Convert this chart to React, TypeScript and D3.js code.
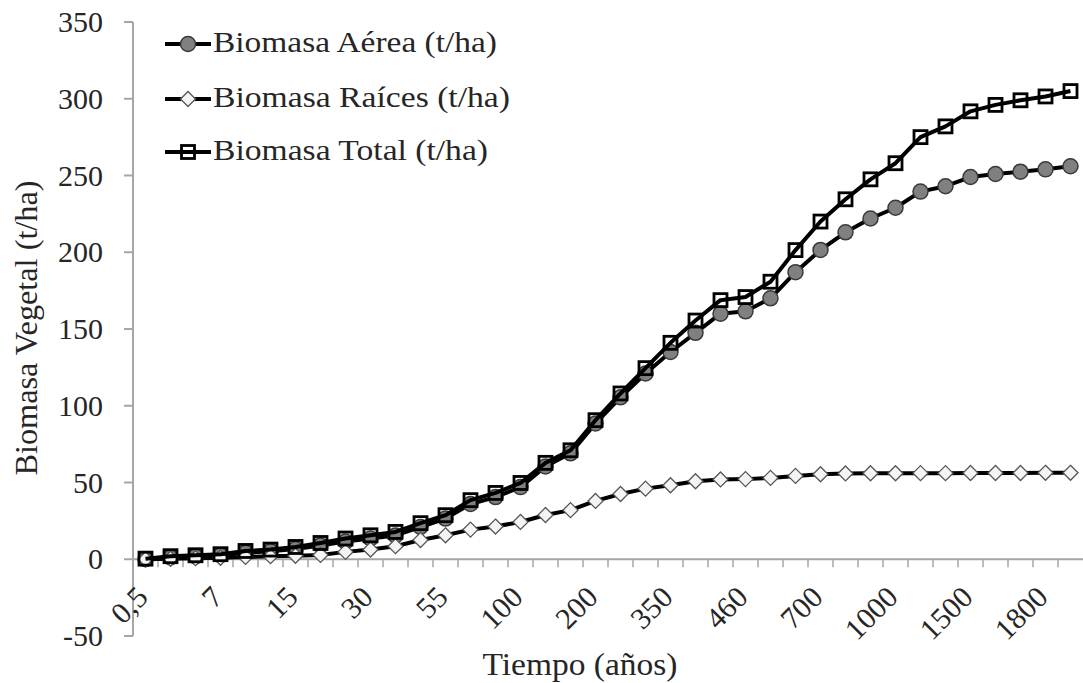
import React from "react";
import * as d3 from "d3";

const timeLabels = ["0,5","1","3","7","9","12","15","20","25","30","40","45","55","70","85","100","130","170","200","250","300","350","400","430","460","550","600","700","800","900","1000","1200","1350","1500","1600","1700","1800","2000"];
const aerea = [0, 1.2, 1.8, 2.6, 4.3, 5.2, 6.6, 9, 11.5, 13.5, 15.5, 21, 26.5, 36, 40.5, 47, 60.5, 69, 88.5, 105.5, 121, 135, 147.5, 160, 161.5, 170, 187, 201.5, 213, 222, 229, 239.5, 243, 249, 251, 252.5, 254, 256];
const raices = [0, 0.3, 0.7, 1, 1.5, 2, 2.3, 2.8, 4.8, 6.3, 8.5, 12.5, 15.6, 19.3, 21.3, 24.3, 28.8, 32, 38, 42.5, 46, 48.2, 50.8, 52, 52.2, 53, 54.3, 55.4, 55.9, 56, 56, 56.1, 56.1, 56.2, 56.2, 56.2, 56.3, 56.3];
const total = [0.4, 2, 2.6, 3.3, 5.4, 6.3, 8, 10.6, 13.5, 15.6, 17.8, 23.5, 28.7, 38.5, 43.2, 49.7, 62.8, 71, 90.6, 108, 124.5, 141, 155.5, 168.8, 170.8, 180.8, 201.4, 220, 234.5, 247.5, 258, 275, 282, 291.8, 296, 299, 301.5, 305];
const yTicks = [-50, 0, 50, 100, 150, 200, 250, 300, 350];
const legendLabels = ["Biomasa Aérea (t/ha)", "Biomasa Raíces (t/ha)", "Biomasa Total (t/ha)"];

const W = 1083, H = 683;
const FONT = "'Liberation Serif', 'Times New Roman', serif";

function Marker({ kind, x, y }: { kind: string; x: number; y: number }) {
  if (kind === "circle") return <circle cx={x} cy={y} r={7.5} fill="#808080" stroke="#3a3a3a" strokeWidth={1.5} />;
  if (kind === "diamond") {
    const s = 7.5;
    return <path d={`M${x},${y - s}L${x + s},${y}L${x},${y + s}L${x - s},${y}Z`} fill="#f4f4f4" stroke="#555" strokeWidth={1.3} />;
  }
  return <rect x={x - 6.5} y={y - 6.5} width={13} height={13} fill="none" stroke="#000" strokeWidth={2.8} />;
}

export default function App() {
  const idx = timeLabels.map((_, i) => i);
  const x = d3.scaleBand<number>().domain(idx).range([133, 1083]);
  const cx = (i: number) => (x(i) as number) + x.bandwidth() / 2;
  const y = d3.scaleLinear().domain([-50, 350]).range([636, 22]);
  const series = [
    { data: aerea, kind: "circle" },
    { data: raices, kind: "diamond" },
    { data: total, kind: "square" },
  ];
  const line = d3.line<number>().x((_, i) => cx(i)).y((d) => y(d));
  const legendY = [44, 99, 152];
  const legendLen = [284, 297, 275];
  return (
    <svg width={W} height={H} style={{ position: "absolute", left: 0, top: 0, background: "#fff" }} fontFamily={FONT}>
      <rect width={W} height={H} fill="#fff" />
      {/* y axis */}
      <line x1={133} x2={133} y1={y(350)} y2={y(-50)} stroke="#a6a6a6" strokeWidth={2} />
      {yTicks.map((t) => (
        <g key={t}>
          <line x1={124} x2={133} y1={y(t)} y2={y(t)} stroke="#a6a6a6" strokeWidth={2} />
          <text x={103} y={y(t) + 10} textAnchor="end" fontSize={30} fill="#262626">{t}</text>
        </g>
      ))}
      {/* x axis */}
      <line x1={133} x2={1083} y1={y(0)} y2={y(0)} stroke="#a6a6a6" strokeWidth={2} />
      {idx.map((i) => (
        <line key={i} x1={x(i) as number} x2={x(i) as number} y1={y(0)} y2={y(0) + 8} stroke="#a6a6a6" strokeWidth={1.5} />
      ))}
      {idx.filter((i) => i % 3 === 0).map((i) => (
        <text key={i} transform={`translate(${cx(i) + 4},599) rotate(-45)`} textAnchor="end" fontSize={30} fill="#262626">{timeLabels[i]}</text>
      ))}
      {/* series */}
      {series.map((s, si) => (
        <g key={si}>
          <path d={line(s.data) as string} fill="none" stroke="#000" strokeWidth={4} strokeLinejoin="round" />
          {s.data.map((v, i) => <Marker key={i} kind={s.kind} x={cx(i)} y={y(v)} />)}
        </g>
      ))}
      {/* legend */}
      {series.map((s, si) => (
        <g key={si}>
          <line x1={165} x2={211} y1={legendY[si]} y2={legendY[si]} stroke="#000" strokeWidth={4} />
          <Marker kind={s.kind} x={188} y={legendY[si]} />
          <text x={213} y={legendY[si] + 8} fontSize={29} fill="#262626" textLength={legendLen[si]} lengthAdjust="spacingAndGlyphs">{legendLabels[si]}</text>
        </g>
      ))}
      {/* titles */}
      <text x={580} y={675} textAnchor="middle" fontSize={31} fill="#262626" textLength={195} lengthAdjust="spacingAndGlyphs">Tiempo (años)</text>
      <text transform="translate(37,328) rotate(-90)" textAnchor="middle" fontSize={32} fill="#262626" textLength={295} lengthAdjust="spacingAndGlyphs">Biomasa Vegetal (t/ha)</text>
    </svg>
  );
}
